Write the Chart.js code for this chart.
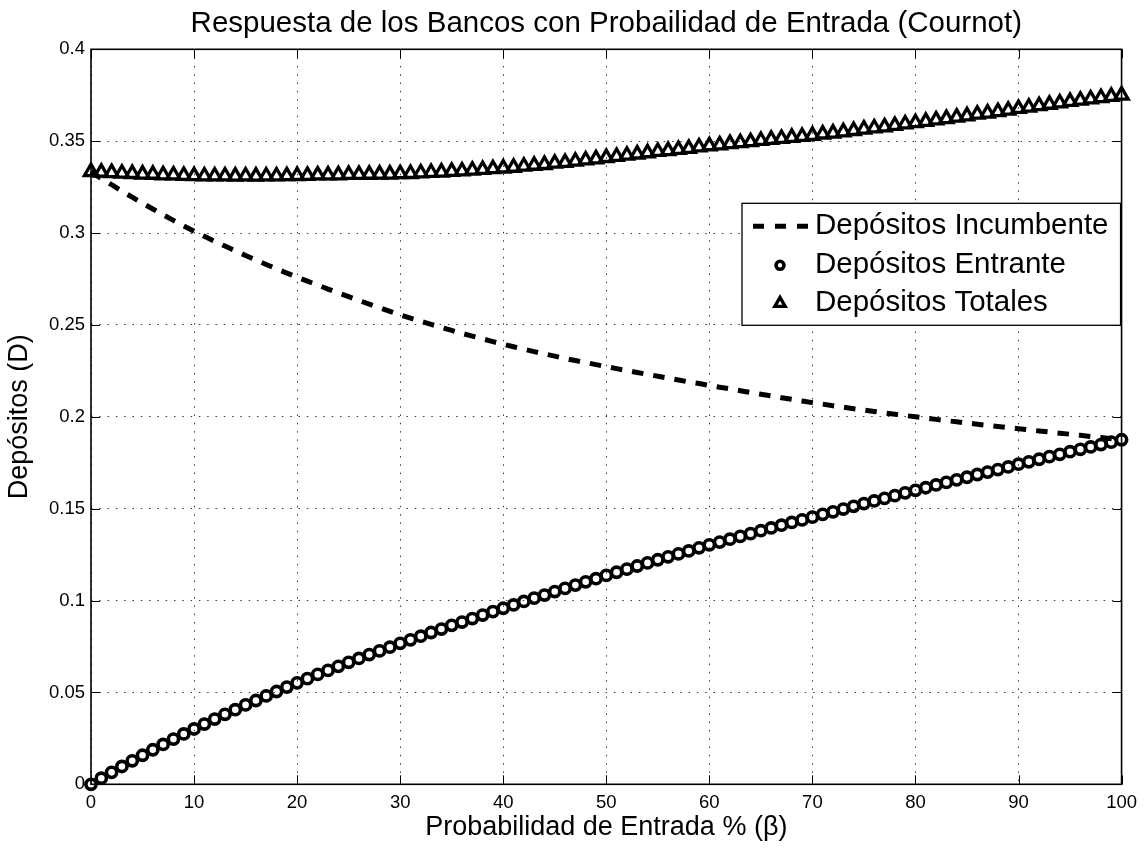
<!DOCTYPE html>
<html lang="es">
<head>
<meta charset="utf-8">
<title>Respuesta de los Bancos con Probailidad de Entrada (Cournot)</title>
<script src="https://cdn.jsdelivr.net/npm/chart.js@4.4.1/dist/chart.umd.min.js"></script>
<style>
  html, body { margin: 0; padding: 0; background: #ffffff; }
  canvas { display: block; }
</style>
</head>
<body>
<canvas id="grafico" width="1145" height="856"></canvas>
<script>
// Probabilidad de entrada (%)
const beta = [
  0, 1, 2, 3, 4, 5, 6, 7, 8, 9, 10, 11, 12, 13, 14, 15, 16, 17, 18, 19, 20,
  21, 22, 23, 24, 25, 26, 27, 28, 29, 30, 31, 32, 33, 34, 35, 36, 37, 38, 39, 40,
  41, 42, 43, 44, 45, 46, 47, 48, 49, 50, 51, 52, 53, 54, 55, 56, 57, 58, 59, 60,
  61, 62, 63, 64, 65, 66, 67, 68, 69, 70, 71, 72, 73, 74, 75, 76, 77, 78, 79, 80,
  81, 82, 83, 84, 85, 86, 87, 88, 89, 90, 91, 92, 93, 94, 95, 96, 97, 98, 99, 100
];

// Depósitos del banco incumbente
const depIncumbente = [
  0.3333,
  0.3297, 0.3263, 0.3228, 0.3195, 0.3162, 0.3131, 0.3099, 0.3069, 0.3039, 0.3010,
  0.2982, 0.2955, 0.2929, 0.2903, 0.2878, 0.2853, 0.2829, 0.2805, 0.2782, 0.2760,
  0.2738, 0.2717, 0.2695, 0.2674, 0.2654, 0.2633, 0.2613, 0.2594, 0.2574, 0.2555,
  0.2537, 0.2520, 0.2503, 0.2486, 0.2470, 0.2454, 0.2439, 0.2424, 0.2409, 0.2395,
  0.2381, 0.2368, 0.2355, 0.2342, 0.2330, 0.2317, 0.2306, 0.2295, 0.2284, 0.2273,
  0.2262, 0.2252, 0.2241, 0.2231, 0.2221, 0.2210, 0.2200, 0.2190, 0.2181, 0.2171,
  0.2161, 0.2152, 0.2142, 0.2132, 0.2123, 0.2114, 0.2104, 0.2095, 0.2086, 0.2077,
  0.2069, 0.2060, 0.2052, 0.2044, 0.2037, 0.2029, 0.2021, 0.2014, 0.2007, 0.2000,
  0.1993, 0.1986, 0.1979, 0.1973, 0.1966, 0.1960, 0.1953, 0.1947, 0.1941, 0.1935,
  0.1929, 0.1923, 0.1917, 0.1911, 0.1905, 0.1899, 0.1893, 0.1887, 0.1881, 0.1875
];

// Depósitos del banco entrante
const depEntrante = [
  0.0000,
  0.0033, 0.0065, 0.0097, 0.0128, 0.0158, 0.0188, 0.0217, 0.0246, 0.0274, 0.0301,
  0.0328, 0.0355, 0.0381, 0.0406, 0.0432, 0.0456, 0.0481, 0.0505, 0.0529, 0.0552,
  0.0575, 0.0598, 0.0620, 0.0642, 0.0664, 0.0685, 0.0706, 0.0726, 0.0746, 0.0767,
  0.0786, 0.0806, 0.0826, 0.0845, 0.0865, 0.0883, 0.0902, 0.0921, 0.0940, 0.0958,
  0.0976, 0.0995, 0.1013, 0.1030, 0.1049, 0.1066, 0.1084, 0.1102, 0.1119, 0.1137,
  0.1154, 0.1171, 0.1188, 0.1205, 0.1222, 0.1238, 0.1254, 0.1270, 0.1287, 0.1303,
  0.1318, 0.1334, 0.1349, 0.1364, 0.1380, 0.1395, 0.1410, 0.1425, 0.1439, 0.1454,
  0.1469, 0.1483, 0.1498, 0.1513, 0.1528, 0.1542, 0.1556, 0.1571, 0.1586, 0.1600,
  0.1614, 0.1629, 0.1643, 0.1657, 0.1671, 0.1686, 0.1699, 0.1713, 0.1727, 0.1742,
  0.1755, 0.1769, 0.1783, 0.1796, 0.1810, 0.1823, 0.1836, 0.1849, 0.1862, 0.1875
];

// Depósitos totales del mercado
const depTotales = [
  0.3333,
  0.3330, 0.3328, 0.3325, 0.3323, 0.3320, 0.3319, 0.3316, 0.3315, 0.3313, 0.3311,
  0.3310, 0.3310, 0.3310, 0.3309, 0.3310, 0.3309, 0.3310, 0.3310, 0.3311, 0.3312,
  0.3313, 0.3315, 0.3315, 0.3316, 0.3318, 0.3318, 0.3319, 0.3320, 0.3320, 0.3322,
  0.3323, 0.3326, 0.3329, 0.3331, 0.3335, 0.3337, 0.3341, 0.3345, 0.3349, 0.3353,
  0.3357, 0.3363, 0.3368, 0.3372, 0.3379, 0.3383, 0.3390, 0.3397, 0.3403, 0.3410,
  0.3416, 0.3423, 0.3429, 0.3436, 0.3443, 0.3448, 0.3454, 0.3460, 0.3468, 0.3474,
  0.3479, 0.3486, 0.3491, 0.3496, 0.3503, 0.3509, 0.3514, 0.3520, 0.3525, 0.3531,
  0.3538, 0.3543, 0.3550, 0.3557, 0.3565, 0.3571, 0.3577, 0.3585, 0.3593, 0.3600,
  0.3607, 0.3615, 0.3622, 0.3630, 0.3637, 0.3646, 0.3652, 0.3660, 0.3668, 0.3677,
  0.3684, 0.3692, 0.3700, 0.3707, 0.3715, 0.3722, 0.3729, 0.3736, 0.3743, 0.3750
];

// Marcas de los ejes
const xTicks = [0, 10, 20, 30, 40, 50, 60, 70, 80, 90, 100];
const xTickLabels = ['0', '10', '20', '30', '40', '50', '60', '70', '80', '90', '100'];
const yTicks = [0, 0.05, 0.1, 0.15, 0.2, 0.25, 0.3, 0.35, 0.4];
const yTickLabels = ['0', '0.05', '0.1', '0.15', '0.2', '0.25', '0.3', '0.35', '0.4'];

const seriesNames = ['Depósitos Incumbente', 'Depósitos Entrante', 'Depósitos Totales'];

const FONT = "'Liberation Sans', Arial, Helvetica, sans-serif";

const toPoints = (ys) => beta.map((b, i) => ({ x: b, y: ys[i] }));

// Marco de los ejes con marcas hacia dentro en los cuatro lados
const marcoEjes = {
  id: 'marcoEjes',
  beforeDatasetsDraw(chart) {
    const { ctx, chartArea: a, scales: { x, y } } = chart;
    const len = 9;
    ctx.save();
    ctx.strokeStyle = '#000';
    ctx.lineWidth = 1;
    ctx.beginPath();
    xTicks.forEach(v => {
      const px = Math.round(x.getPixelForValue(v)) + 0.5;
      ctx.moveTo(px, a.bottom); ctx.lineTo(px, a.bottom - len);
      ctx.moveTo(px, a.top); ctx.lineTo(px, a.top + len);
    });
    yTicks.forEach(v => {
      const py = Math.round(y.getPixelForValue(v)) + 0.5;
      ctx.moveTo(a.left, py); ctx.lineTo(a.left + len, py);
      ctx.moveTo(a.right, py); ctx.lineTo(a.right - len, py);
    });
    ctx.stroke();
    ctx.lineWidth = 1.6;
    ctx.strokeRect(a.left, a.top, a.right - a.left, a.bottom - a.top);
    ctx.restore();
  }
};

// Leyenda en recuadro dentro del área de trazado
const leyenda = {
  id: 'leyendaRecuadro',
  afterDatasetsDraw(chart) {
    const { ctx, chartArea: a } = chart;
    const box = { left: a.left + 651, top: a.top + 154, right: a.right - 1, bottom: a.top + 276 };
    const rows = [box.top + 23, box.top + 62, box.top + 100];
    const textX = box.left + 73;
    const sampleX0 = box.left + 11, sampleX1 = box.left + 67;
    const markX = box.left + 38;
    const markSize = [0, 4, 6];
    ctx.save();
    ctx.fillStyle = '#fff';
    ctx.fillRect(box.left, box.top, box.right - box.left, box.bottom - box.top);
    ctx.strokeStyle = '#000';
    ctx.lineWidth = 1.3;
    ctx.strokeRect(box.left, box.top, box.right - box.left, box.bottom - box.top);

    chart.data.datasets.forEach((ds, i) => {
      const yRow = rows[i];
      ctx.save();
      if (ds.showLine !== false && ds.pointRadius === 0) {
        ctx.strokeStyle = ds.borderColor;
        ctx.lineWidth = ds.borderWidth;
        ctx.setLineDash([11, 11]);
        ctx.lineCap = 'butt';
        ctx.beginPath();
        ctx.moveTo(sampleX0, yRow);
        ctx.lineTo(sampleX1, yRow);
        ctx.stroke();
      } else {
        ctx.strokeStyle = ds.pointBorderColor;
        ctx.fillStyle = 'rgba(0,0,0,0)';
        ctx.lineWidth = ds.pointBorderWidth;
        Chart.helpers.drawPoint(ctx, {
          pointStyle: ds.pointStyle,
          radius: markSize[i],
          borderWidth: ds.pointBorderWidth,
          rotation: 0
        }, markX, yRow);
      }
      ctx.restore();
      ctx.fillStyle = '#000';
      ctx.font = '29.5px ' + FONT;
      ctx.textBaseline = 'middle';
      ctx.textAlign = 'left';
      ctx.fillText(ds.label, textX, yRow);
    });
    ctx.restore();
  }
};

const gridStyle = { color: '#3a3a3a', lineWidth: 1, drawTicks: false };
const gridDash = { display: false, dash: [1.5, 6.8] };

new Chart(document.getElementById('grafico'), {
  type: 'line',
  data: {
    datasets: [
      {
        label: seriesNames[0],
        data: toPoints(depIncumbente),
        borderColor: '#000',
        borderWidth: 5,
        borderDash: [11.5, 10],
        borderCapStyle: 'butt',
        pointRadius: 0,
        fill: false,
        tension: 0,
        order: 3,
        clip: false
      },
      {
        label: seriesNames[1],
        data: toPoints(depEntrante),
        showLine: false,
        pointStyle: 'circle',
        pointRadius: 5.1,
        pointBorderWidth: 3.6,
        pointBorderColor: '#000',
        pointBackgroundColor: 'rgba(0,0,0,0)',
        order: 2,
        clip: false
      },
      {
        label: seriesNames[2],
        data: toPoints(depTotales),
        showLine: false,
        pointStyle: 'triangle',
        pointRadius: 7.6,
        pointBorderWidth: 3.3,
        pointBorderColor: '#000',
        pointBackgroundColor: 'rgba(0,0,0,0)',
        order: 1,
        clip: false
      }
    ]
  },
  options: {
    responsive: false,
    animation: false,
    devicePixelRatio: 1,
    events: [],
    layout: { padding: { left: 0, right: 23, top: 0, bottom: 0 } },
    plugins: {
      legend: { display: false },
      tooltip: { enabled: false },
      title: {
        display: true,
        fullSize: false,
        text: 'Respuesta de los Bancos con Probailidad de Entrada (Cournot)',
        color: '#000',
        font: { family: FONT, size: 29.5, weight: 'normal', lineHeight: 1.2 },
        padding: { top: 6, bottom: 7.9 }
      }
    },
    scales: {
      x: {
        type: 'linear',
        min: 0,
        max: 100,
        grid: gridStyle,
        border: gridDash,
        afterBuildTicks: (s) => { s.ticks = xTicks.map(v => ({ value: v })); },
        afterFit: (s) => { s.height = 71.7; },
        ticks: {
          color: '#000',
          padding: 8,
          maxRotation: 0,
          font: { family: FONT, size: 18.5 },
          callback: (v, i) => xTickLabels[i]
        },
        title: {
          display: true,
          text: 'Probabilidad de Entrada % (β)',
          color: '#000',
          font: { family: FONT, size: 27 },
          padding: { top: 0, bottom: 12.5 }
        }
      },
      y: {
        type: 'linear',
        min: 0,
        max: 0.4,
        grid: gridStyle,
        border: gridDash,
        afterBuildTicks: (s) => { s.ticks = yTicks.map(v => ({ value: v })); },
        afterFit: (s) => { s.width = 91; },
        ticks: {
          color: '#000',
          padding: 6,
          font: { family: FONT, size: 18.5 },
          callback: (v, i) => yTickLabels[i]
        },
        title: {
          display: true,
          text: 'Depósitos (D)',
          color: '#000',
          font: { family: FONT, size: 27 },
          padding: { top: 3.8, bottom: 0 }
        }
      }
    }
  },
  plugins: [marcoEjes, leyenda]
});
</script>
</body>
</html>
